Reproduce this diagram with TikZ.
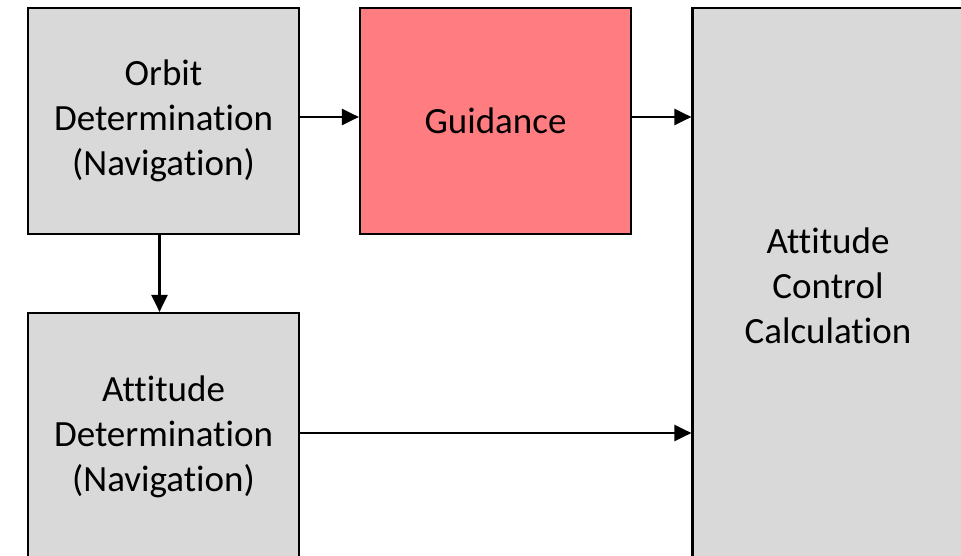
\documentclass[tikz,border=0pt]{standalone}
\usepackage{fontspec}
\setmainfont{Carlito}[Ligatures=NoCommon]
\usetikzlibrary{arrows.meta}

\begin{document}
\begin{tikzpicture}[x=1pt,y=-1pt,
  blk/.style={draw=black,line width=2.2pt,fill=gray!30,inner sep=0pt,minimum width=271pt,
    align=center,font=\fontsize{37}{45}\selectfont},
  gdb/.style={blk,fill=guidred},
  arr/.style={draw=black,line width=2.2pt,-{Triangle[length=17pt,width=16pt]}}]
  \definecolor{guidred}{HTML}{FF7C80}
  \clip (0,0) rectangle (961,556);
  % top row
  \node[blk,minimum height=226pt] (od) at (163.5,121) {Orbit\\Determination\\(Navigation)};
  \node[gdb,minimum height=226pt] (gd) at (495.5,121) {Guidance};
  % bottom left and tall right box (both run past the page edge)
  \node[blk,minimum height=248pt] (ad) at (163.5,437) {Attitude\\Determination\\(Navigation)};
  \node[blk,minimum height=556pt] (acc) at (828,286) {Attitude\\Control\\Calculation};
  \draw[arr] ([yshift=4pt]od.east) -- ([yshift=4pt]gd.west);
  \draw[arr] ([yshift=4pt]gd.east) -- ([yshift=4pt]gd.east -| acc.west);
  \draw[arr] ([xshift=-4pt]od.south) -- ([xshift=-4pt]ad.north);
  \draw[arr] ([yshift=4pt]ad.east) -- ([yshift=4pt]ad.east -| acc.west);
\end{tikzpicture}
\end{document}
